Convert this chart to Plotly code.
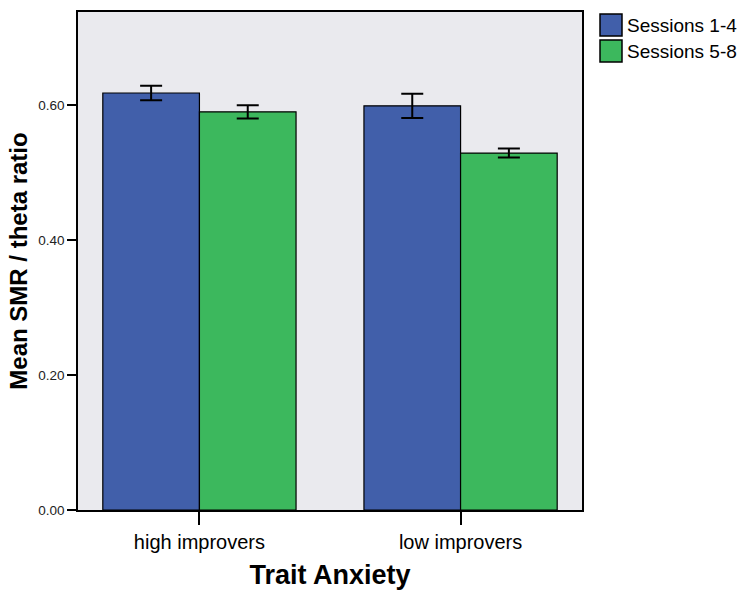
import plotly.graph_objects as go

categories = ["high improvers", "low improvers"]
series_names = ["Sessions 1-4", "Sessions 5-8"]
sessions_1_4 = [0.618, 0.599]
sessions_1_4_err = [0.0107, 0.018]
sessions_5_8 = [0.590, 0.529]
sessions_5_8_err = [0.0097, 0.0068]
y_ticks = [0.0, 0.2, 0.4, 0.6]
y_tick_labels = ["0.00", "0.20", "0.40", "0.60"]

colors = ["#415FAA", "#3CB85D"]
font = "Liberation Sans, Arial, sans-serif"

# plot area in page pixels
PL, PR, PT, PB = 78, 582, 12, 510
PW, PH = PR - PL, PB - PT
W, H = 743, 590

fig = go.Figure()
for name, vals, errs, col in [
    (series_names[0], sessions_1_4, sessions_1_4_err, colors[0]),
    (series_names[1], sessions_5_8, sessions_5_8_err, colors[1]),
]:
    fig.add_trace(go.Bar(
        x=categories, y=vals, name=name,
        marker=dict(color=col, line=dict(color="black", width=1.2)),
        error_y=dict(type="data", array=errs, visible=True, color="black",
                     thickness=2, width=11),
        showlegend=False,
    ))

# manual legend
for i, (name, col) in enumerate(zip(series_names, colors)):
    top_px = 14 + i * 26
    y_top = 1 - (top_px - PT) / PH
    y_bot = 1 - (top_px + 22 - PT) / PH
    x0 = (600 - PL) / PW
    x1 = (622 - PL) / PW
    fig.add_shape(type="rect", xref="paper", yref="paper",
                  x0=x0, x1=x1, y0=y_bot, y1=y_top,
                  fillcolor=col, line=dict(color="black", width=1.5))
    fig.add_annotation(xref="paper", yref="paper", x=(625 - PL) / PW,
                       y=(y_top + y_bot) / 2, text=name, showarrow=False,
                       xanchor="left", yanchor="middle",
                       font=dict(family=font, size=19, color="black"))

fig.update_layout(
    width=W, height=H,
    margin=dict(l=PL, r=W - PR, t=PT, b=H - PB, autoexpand=False),
    paper_bgcolor="white", plot_bgcolor="#EAEAEE",
    barmode="group", bargap=0.26, bargroupgap=0,
    font=dict(family=font, color="black"),
    showlegend=False,
)
fig.update_xaxes(
    range=[-0.465, 1.465], showline=True, linecolor="black", linewidth=1.5,
    mirror=True, ticks="outside", ticklen=13, tickwidth=1.5, tickcolor="black",
    tickfont=dict(size=20, family=font),
    title=dict(text="<b>Trait Anxiety</b>", font=dict(size=27, family=font), standoff=15),
    showgrid=False,
)
fig.update_yaxes(
    range=[0, 0.738], tickvals=y_ticks, ticktext=y_tick_labels,
    showline=True, linecolor="black", linewidth=1.5, mirror=True,
    ticks="outside", ticklen=9, tickwidth=1.5, tickcolor="black",
    tickfont=dict(size=13.5, family=font, color="#222"),
    title=dict(text="<b>Mean SMR / theta ratio</b>", font=dict(size=24, family=font), standoff=4),
    showgrid=False, zeroline=False,
)

fig.write_html(
    "out.html",
    config={"displayModeBar": False},
    post_script="document.body.style.margin='0';document.body.style.overflow='hidden';",
)
